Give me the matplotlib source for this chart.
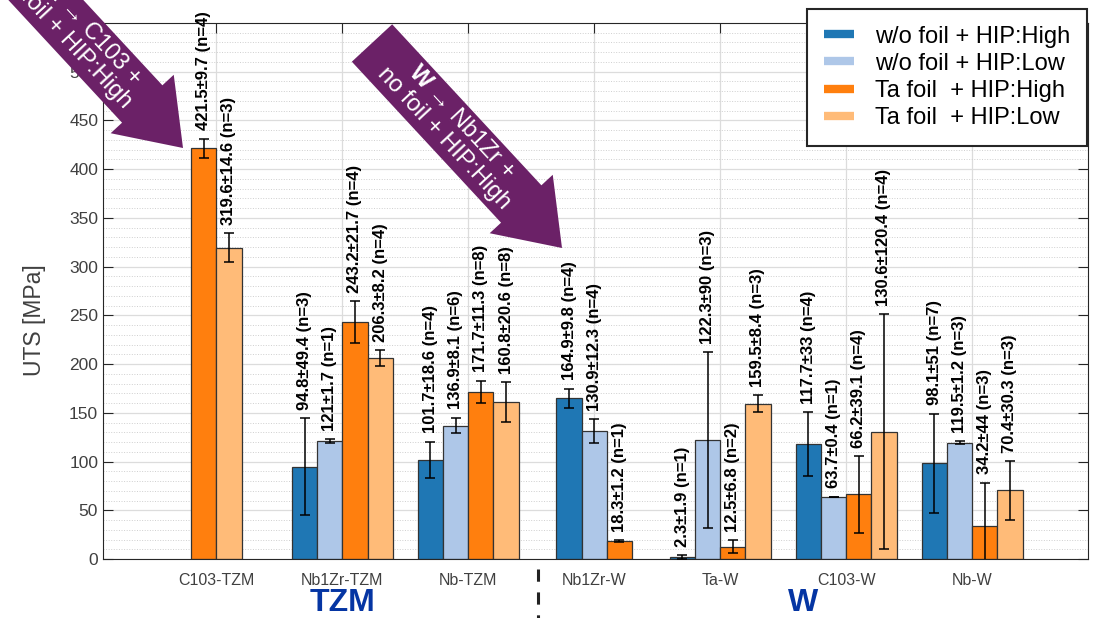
import numpy as np
import matplotlib.pyplot as plt
from matplotlib.lines import Line2D
from matplotlib.patches import FancyArrow
from matplotlib.transforms import Affine2D

plt.rcParams['font.family'] = ['Liberation Sans', 'DejaVu Sans']
plt.rcParams['mathtext.fontset'] = 'custom'
plt.rcParams['mathtext.rm'] = 'Liberation Sans'
plt.rcParams['mathtext.bf'] = 'Liberation Sans:bold'

# data
groups = ['C103-TZM', 'Nb1Zr-TZM', 'Nb-TZM', 'Nb1Zr-W', 'Ta-W', 'C103-W', 'Nb-W']
nan = np.nan
wo_high = [nan, 94.8, 101.7, 164.9, 2.3, 117.7, 98.1]
wo_high_sd = [nan, 49.4, 18.6, 9.8, 1.9, 33, 51]
wo_high_n = [0, 3, 4, 4, 1, 4, 7]
wo_low = [nan, 121, 136.9, 130.9, 122.3, 63.7, 119.5]
wo_low_sd = [nan, 1.7, 8.1, 12.3, 90, 0.4, 1.2]
wo_low_n = [0, 1, 6, 4, 3, 1, 3]
ta_high = [421.5, 243.2, 171.7, 18.3, 12.5, 66.2, 34.2]
ta_high_sd = [9.7, 21.7, 11.3, 1.2, 6.8, 39.1, 44]
ta_high_n = [4, 4, 8, 1, 2, 4, 3]
ta_low = [319.6, 206.3, 160.8, nan, 159.5, 130.6, 70.4]
ta_low_sd = [14.6, 8.2, 20.6, nan, 8.4, 120.4, 30.3]
ta_low_n = [3, 4, 8, 0, 3, 4, 3]

series_names = ['w/o foil + HIP:High', 'w/o foil + HIP:Low',
                'Ta foil  + HIP:High', 'Ta foil  + HIP:Low']
colors = ['#1f77b4', '#aec7e8', '#ff7f0e', '#ffbb78']
means = np.array([wo_high, wo_low, ta_high, ta_low], dtype=float)
sds = np.array([wo_high_sd, wo_low_sd, ta_high_sd, ta_low_sd], dtype=float)
ns = np.array([wo_high_n, wo_low_n, ta_high_n, ta_low_n])

fig = plt.figure(figsize=(11.07, 6.18), dpi=100)
ax = fig.add_axes([103 / 1107, 1 - 559 / 618, 985 / 1107, 536 / 618])
# pixel coords of the picture (y down) -> display
T = Affine2D().scale(1 / 100, -1 / 100).translate(0, 6.18) + fig.dpi_scale_trans

w = 0.2
xc = np.arange(1, len(groups) + 1)
for g in range(len(groups)):
    present = [s for s in range(4) if not np.isnan(means[s, g])]
    k = len(present)
    for j, s in enumerate(present):
        x = xc[g] + (j - (k - 1) / 2) * w
        m, sd = means[s, g], sds[s, g]
        ax.bar(x, m, width=w, color=colors[s], edgecolor='#333333', linewidth=0.9, zorder=2)
        ax.errorbar(x, m, yerr=sd, color='black', lw=1.1, capsize=3.5, capthick=1.1, zorder=3)
        ax.annotate(f"{m:g}±{sd:g} (n={ns[s, g]})", xy=(x, m + sd), xytext=(0, 6),
                    textcoords='offset points', rotation=90, ha='center', va='bottom',
                    fontsize=12, fontweight='bold', color='black', zorder=4)

ax.set_xlim(0.1, 7.92)
ax.set_ylim(0, 550)
ax.set_xticks(xc)
ax.set_xticklabels(groups, fontsize=11.5, color='#404040')
ax.set_yticks(np.arange(0, 501, 50))
ax.set_yticks(np.arange(0, 551, 10), minor=True)
ax.tick_params(axis='y', labelsize=12.5, labelcolor='#404040')
ax.tick_params(which='major', direction='in', length=7, top=True, right=True, color='#262626')
ax.tick_params(which='minor', length=0)
ax.tick_params(axis='x', pad=10)
ax.grid(which='major', color='#dcdcdc', lw=0.9)
ax.grid(which='minor', axis='y', color='#cfcfcf', lw=0.7, ls=':')
ax.set_axisbelow(True)
for sp in ax.spines.values():
    sp.set_color('#262626')
ax.set_ylabel('UTS [MPa]', fontsize=16.5, color='#404040')
ax.yaxis.set_label_coords(-0.058, 0.446)

handles = [Line2D([], [], color=c, lw=6, solid_capstyle='butt') for c in colors]
leg = ax.legend(handles, series_names, loc='upper left', bbox_to_anchor=(807 / 1107, 1 - 9 / 618),
                bbox_transform=fig.transFigure, fontsize=17, borderpad=0.7, handlelength=1.3,
                handletextpad=0.9, labelspacing=0.22, fancybox=False, framealpha=1,
                edgecolor='#262626', borderaxespad=0)
leg.get_frame().set_linewidth(1.5)

# purple arrows with notes
purple = '#6b2167'
arrows = [((-7, -57), (183, 148), (74, 30), '$\\mathbf{TZM}$ → C103 +\nTa foil + HIP:High'),
          ((372, 43), (562, 248), (453, 130), '$\\mathbf{W}$ → Nb1Zr +\nno foil + HIP:High')]
for tail, tip, tpos, txt in arrows:
    fig.add_artist(FancyArrow(tail[0], tail[1], tip[0] - tail[0], tip[1] - tail[1], width=55,
                              head_width=86, head_length=60, length_includes_head=True,
                              transform=T, color=purple, lw=0, zorder=10))
    fig.text(tpos[0], tpos[1], txt, transform=T, rotation=-47.2, rotation_mode='anchor',
             ha='center', va='center', multialignment='center', fontsize=17, color='white',
             linespacing=1.1, zorder=11)

# group captions and separator
fig.text(342, 603, 'TZM', transform=T, ha='center', va='center', fontsize=23,
         fontweight='bold', color='#0535a3')
fig.text(803, 603, 'W', transform=T, ha='center', va='center', fontsize=23,
         fontweight='bold', color='#0535a3')
fig.add_artist(Line2D([538, 538], [569, 618], transform=T, color='#222222', lw=2.2,
                      dashes=(4, 3.5)))

fig.savefig('out.png', dpi=100)
